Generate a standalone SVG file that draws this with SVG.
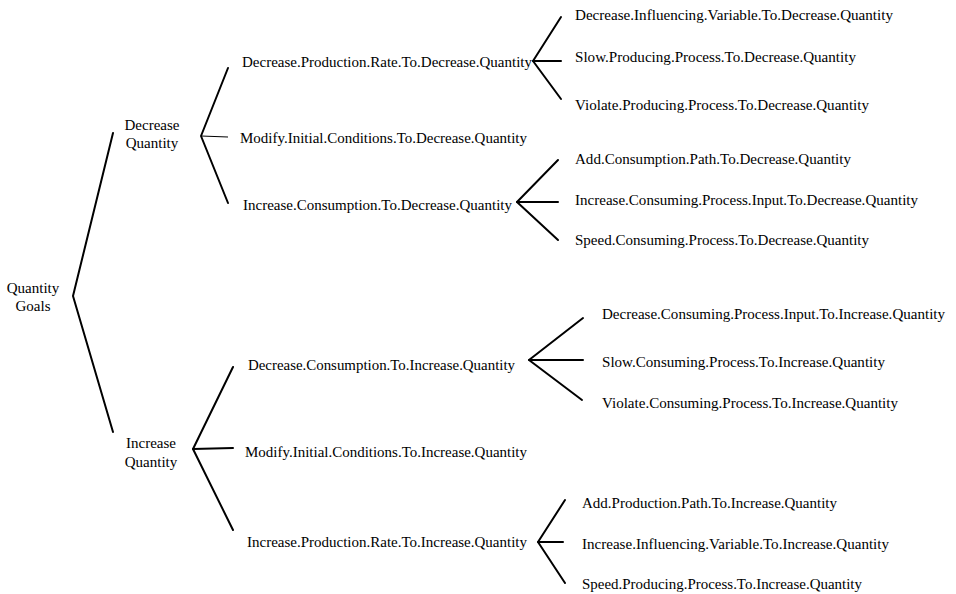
<svg xmlns="http://www.w3.org/2000/svg" width="956" height="594" viewBox="0 0 956 594">
<style>
.l{stroke:#000;stroke-width:2;fill:none;stroke-linecap:round;stroke-linejoin:round}
.t{stroke:#000;stroke-width:1.2;fill:none}
</style>
<rect width="956" height="594" fill="#fff"/>
<g id="connectors">
<polyline class="l" points="113,133 73,296 113,432"/>
<polyline class="l" points="228,68 201,136 228,203"/>
<line class="t" x1="201" y1="136" x2="228" y2="137"/>
<polyline class="l" points="561,17 533,61 561,99"/>
<line class="l" x1="533" y1="61" x2="561" y2="61"/>
<polyline class="l" points="558,160 517,202 558,240"/>
<line class="l" x1="517" y1="202" x2="558" y2="202"/>
<polyline class="l" points="233,367 193,449 233,530"/>
<line class="l" x1="193" y1="449" x2="233" y2="448"/>
<polyline class="l" points="583,318 529,360 582,400"/>
<line class="l" x1="529" y1="360" x2="583" y2="360"/>
<polyline class="l" points="565,500 538,542 565,583"/>
<line class="l" x1="538" y1="542" x2="563" y2="542"/>
</g>
<g id="quantity-goals"><text x="33" y="293" font-family="'Liberation Serif', serif" font-size="15" text-anchor="middle">Quantity</text><text x="33" y="311" font-family="'Liberation Serif', serif" font-size="15" text-anchor="middle">Goals</text></g>
<g id="decrease-quantity"><text x="152" y="130" font-family="'Liberation Serif', serif" font-size="15" text-anchor="middle">Decrease</text><text x="152" y="148" font-family="'Liberation Serif', serif" font-size="15" text-anchor="middle">Quantity</text></g>
<g id="increase-quantity"><text x="151" y="448" font-family="'Liberation Serif', serif" font-size="15" text-anchor="middle">Increase</text><text x="151" y="467" font-family="'Liberation Serif', serif" font-size="15" text-anchor="middle">Quantity</text></g>
<g id="dec-production-rate"><text x="242" y="67" font-family="'Liberation Serif', serif" font-size="15" textLength="290" lengthAdjust="spacingAndGlyphs">Decrease.Production.Rate.To.Decrease.Quantity</text></g>
<g id="modify-initial-dec"><text x="240" y="143" font-family="'Liberation Serif', serif" font-size="15" textLength="287" lengthAdjust="spacingAndGlyphs">Modify.Initial.Conditions.To.Decrease.Quantity</text></g>
<g id="inc-consumption-dec"><text x="243" y="210" font-family="'Liberation Serif', serif" font-size="15" textLength="269" lengthAdjust="spacingAndGlyphs">Increase.Consumption.To.Decrease.Quantity</text></g>
<g id="dec-influencing-var"><text x="575" y="20" font-family="'Liberation Serif', serif" font-size="15" textLength="318" lengthAdjust="spacingAndGlyphs">Decrease.Influencing.Variable.To.Decrease.Quantity</text></g>
<g id="slow-producing-dec"><text x="575" y="62" font-family="'Liberation Serif', serif" font-size="15" textLength="281" lengthAdjust="spacingAndGlyphs">Slow.Producing.Process.To.Decrease.Quantity</text></g>
<g id="violate-producing-dec"><text x="575" y="110" font-family="'Liberation Serif', serif" font-size="15" textLength="294" lengthAdjust="spacingAndGlyphs">Violate.Producing.Process.To.Decrease.Quantity</text></g>
<g id="add-consumption-path"><text x="575" y="164" font-family="'Liberation Serif', serif" font-size="15" textLength="276" lengthAdjust="spacingAndGlyphs">Add.Consumption.Path.To.Decrease.Quantity</text></g>
<g id="inc-consuming-input"><text x="575" y="205" font-family="'Liberation Serif', serif" font-size="15" textLength="343" lengthAdjust="spacingAndGlyphs">Increase.Consuming.Process.Input.To.Decrease.Quantity</text></g>
<g id="speed-consuming-dec"><text x="575" y="245" font-family="'Liberation Serif', serif" font-size="15" textLength="294" lengthAdjust="spacingAndGlyphs">Speed.Consuming.Process.To.Decrease.Quantity</text></g>
<g id="dec-consumption-inc"><text x="248" y="370" font-family="'Liberation Serif', serif" font-size="15" textLength="267" lengthAdjust="spacingAndGlyphs">Decrease.Consumption.To.Increase.Quantity</text></g>
<g id="modify-initial-inc"><text x="245" y="457" font-family="'Liberation Serif', serif" font-size="15" textLength="282" lengthAdjust="spacingAndGlyphs">Modify.Initial.Conditions.To.Increase.Quantity</text></g>
<g id="inc-production-rate"><text x="247" y="547" font-family="'Liberation Serif', serif" font-size="15" textLength="280" lengthAdjust="spacingAndGlyphs">Increase.Production.Rate.To.Increase.Quantity</text></g>
<g id="dec-consuming-input"><text x="602" y="319" font-family="'Liberation Serif', serif" font-size="15" textLength="343" lengthAdjust="spacingAndGlyphs">Decrease.Consuming.Process.Input.To.Increase.Quantity</text></g>
<g id="slow-consuming-inc"><text x="602" y="367" font-family="'Liberation Serif', serif" font-size="15" textLength="283" lengthAdjust="spacingAndGlyphs">Slow.Consuming.Process.To.Increase.Quantity</text></g>
<g id="violate-consuming-inc"><text x="602" y="408" font-family="'Liberation Serif', serif" font-size="15" textLength="296" lengthAdjust="spacingAndGlyphs">Violate.Consuming.Process.To.Increase.Quantity</text></g>
<g id="add-production-path"><text x="582" y="508" font-family="'Liberation Serif', serif" font-size="15" textLength="255" lengthAdjust="spacingAndGlyphs">Add.Production.Path.To.Increase.Quantity</text></g>
<g id="inc-influencing-var"><text x="582" y="549" font-family="'Liberation Serif', serif" font-size="15" textLength="307" lengthAdjust="spacingAndGlyphs">Increase.Influencing.Variable.To.Increase.Quantity</text></g>
<g id="speed-producing-inc"><text x="582" y="589" font-family="'Liberation Serif', serif" font-size="15" textLength="280" lengthAdjust="spacingAndGlyphs">Speed.Producing.Process.To.Increase.Quantity</text></g>
</svg>
